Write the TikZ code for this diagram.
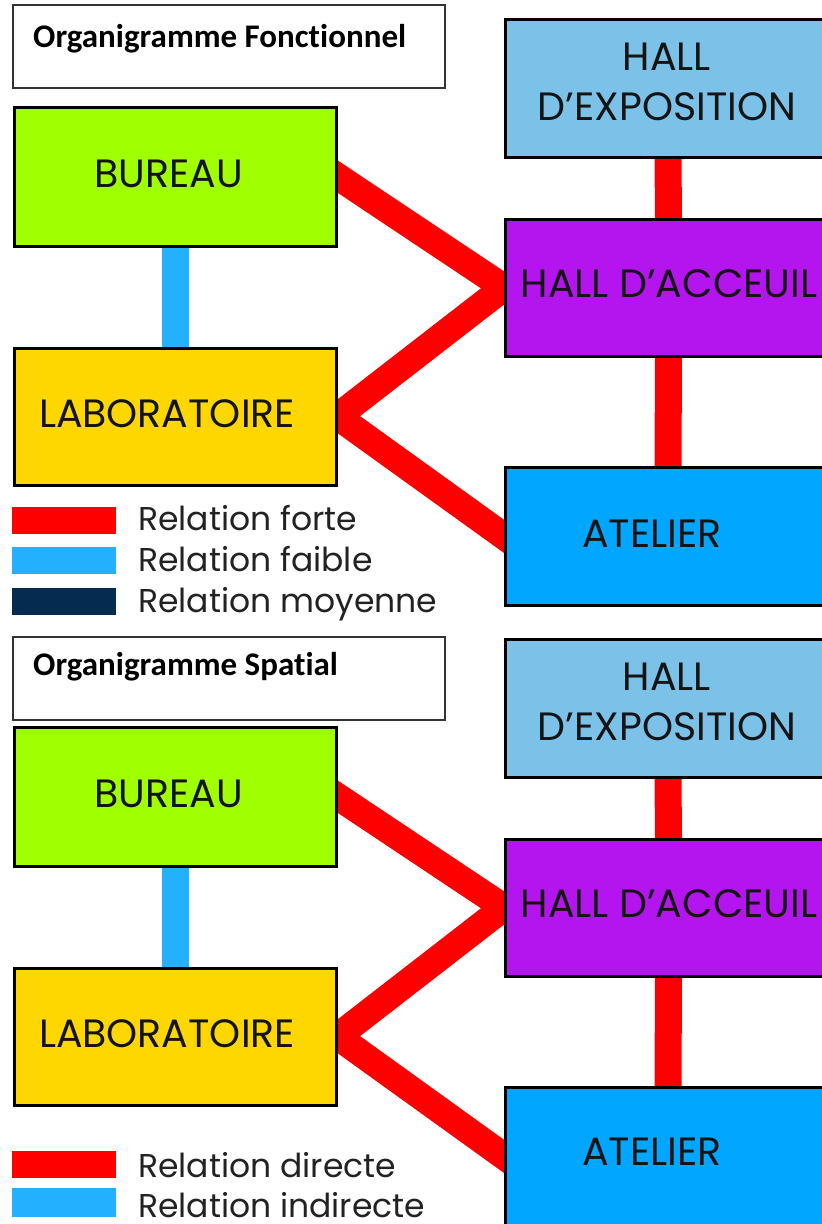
\documentclass[tikz,border=0pt]{standalone}
\usepackage{fontspec}
\setmainfont{Poppins}
\newfontfamily\headfont[Ligatures=NoCommon]{Carlito}
\usetikzlibrary{backgrounds}

\definecolor{bureauC}{HTML}{A0FF00}
\definecolor{laboC}{HTML}{FFD700}
\definecolor{expoC}{HTML}{7CC1E8}
\definecolor{accueilC}{HTML}{B414EE}
\definecolor{atelierC}{HTML}{00A6FF}
\definecolor{forteC}{HTML}{FF0000}
\definecolor{faibleC}{HTML}{22B0FF}
\definecolor{moyenneC}{HTML}{062B50}
\definecolor{legendInk}{HTML}{222222}

\begin{document}
\begin{tikzpicture}[x=1pt,y=-1pt,
  headbox/.style={draw=black!80, line width=1.3pt, fill=white, inner sep=0pt},
  headtext/.style={font=\headfont\bfseries\fontsize{33}{33}\selectfont, anchor=base west, inner sep=0pt},
  room/.style={draw=black, line width=3pt, inner sep=0pt},
  roomtext/.style={font=\fontsize{39.5}{50}\selectfont, text=black!92, anchor=base, align=center, inner sep=0pt},
  legkey/.style={inner sep=0pt, minimum width=104pt, minimum height=27pt},
  legtext/.style={font=\fontsize{33}{33}\selectfont, text=legendInk, anchor=base west, inner sep=0pt},
  link/.style={line width=27pt, shorten <=-16pt, shorten >=-16pt},
  forte/.style={link, draw=forteC},
  faible/.style={link, draw=faibleC}]

\useasboundingbox (0,0) rectangle (822,1224);
\clip (0,0) rectangle (822,1224);

% ---------- Organigramme fonctionnel ----------
\node[headbox, minimum width=432pt, minimum height=83pt] (head1) at (229,46.5) {};
\node[headtext] (head1T) at (33,47) {Organigramme Fonctionnel};

\node[room, fill=bureauC, minimum width=322pt, minimum height=139pt] (bureau1) at (175,176.5) {};
\node[room, fill=laboC, minimum width=322pt, minimum height=137pt] (labo1) at (175,416.5) {};
\node[room, fill=expoC, minimum width=326pt, minimum height=138pt] (expo1) at (668,88) {};
\node[room, fill=accueilC, minimum width=326pt, minimum height=137pt] (accueil1) at (668.5,287.5) {};
\node[room, fill=atelierC, minimum width=326pt, minimum height=138pt] (atelier1) at (668,536) {};

\node[roomtext] (bureau1T) at (168.5,187) {BUREAU};
\node[roomtext] (labo1T) at (167,427) {LABORATOIRE};
\node[roomtext] (expo1T) at (667,120) {HALL\\D’EXPOSITION};
\node[roomtext] (accueil1T) at (669,297) {HALL D’ACCEUIL};
\node[roomtext] (atelier1T) at (652,547) {ATELIER};

\begin{pgfonlayer}{background}
  \draw[faible] (bureau1.south) -- (labo1.north);
  \draw[forte] (bureau1.east) -- (accueil1.west);
  \draw[forte] (labo1.east) -- (accueil1.west);
  \draw[forte] (labo1.east) -- (atelier1.west);
  \draw[forte] (expo1.south) -- (accueil1.north);
  \draw[forte] (accueil1.south) -- (atelier1.north);
\end{pgfonlayer}

\node[legkey, fill=forteC] (key1a) at (64,520.5) {};
\node[legkey, fill=faibleC] (key1b) at (64,560) {};
\node[legkey, fill=moyenneC] (key1c) at (64,601) {};
\node[legtext] (leg1a) at (138,530) {Relation forte};
\node[legtext] (leg1b) at (138,571) {Relation faible};
\node[legtext] (leg1c) at (138,612) {Relation moyenne};

% ---------- Organigramme spatial ----------
\node[headbox, minimum width=432pt, minimum height=83pt] (head2) at (229,678.5) {};
\node[headtext] (head2T) at (33,675) {Organigramme Spatial};

\node[room, fill=bureauC, minimum width=322pt, minimum height=139pt] (bureau2) at (175,796.5) {};
\node[room, fill=laboC, minimum width=322pt, minimum height=137pt] (labo2) at (175,1036.5) {};
\node[room, fill=expoC, minimum width=326pt, minimum height=138pt] (expo2) at (668,708) {};
\node[room, fill=accueilC, minimum width=326pt, minimum height=137pt] (accueil2) at (668.5,907.5) {};
\node[room, fill=atelierC, minimum width=326pt, minimum height=138pt] (atelier2) at (668,1156) {};

\node[roomtext] (bureau2T) at (168.5,807) {BUREAU};
\node[roomtext] (labo2T) at (167,1047) {LABORATOIRE};
\node[roomtext] (expo2T) at (667,740) {HALL\\D’EXPOSITION};
\node[roomtext] (accueil2T) at (669,917) {HALL D’ACCEUIL};
\node[roomtext] (atelier2T) at (652,1165) {ATELIER};

\begin{pgfonlayer}{background}
  \draw[faible] (bureau2.south) -- (labo2.north);
  \draw[forte] (bureau2.east) -- (accueil2.west);
  \draw[forte] (labo2.east) -- (accueil2.west);
  \draw[forte] (labo2.east) -- (atelier2.west);
  \draw[forte] (expo2.south) -- (accueil2.north);
  \draw[forte] (accueil2.south) -- (atelier2.north);
\end{pgfonlayer}

\node[legkey, fill=forteC] (key2a) at (64,1164) {};
\node[legkey, fill=faibleC, minimum height=29pt] (key2b) at (64,1202.5) {};
\node[legtext] (leg2a) at (138,1177) {Relation directe};
\node[legtext] (leg2b) at (138,1217) {Relation indirecte};
\end{tikzpicture}
\end{document}
